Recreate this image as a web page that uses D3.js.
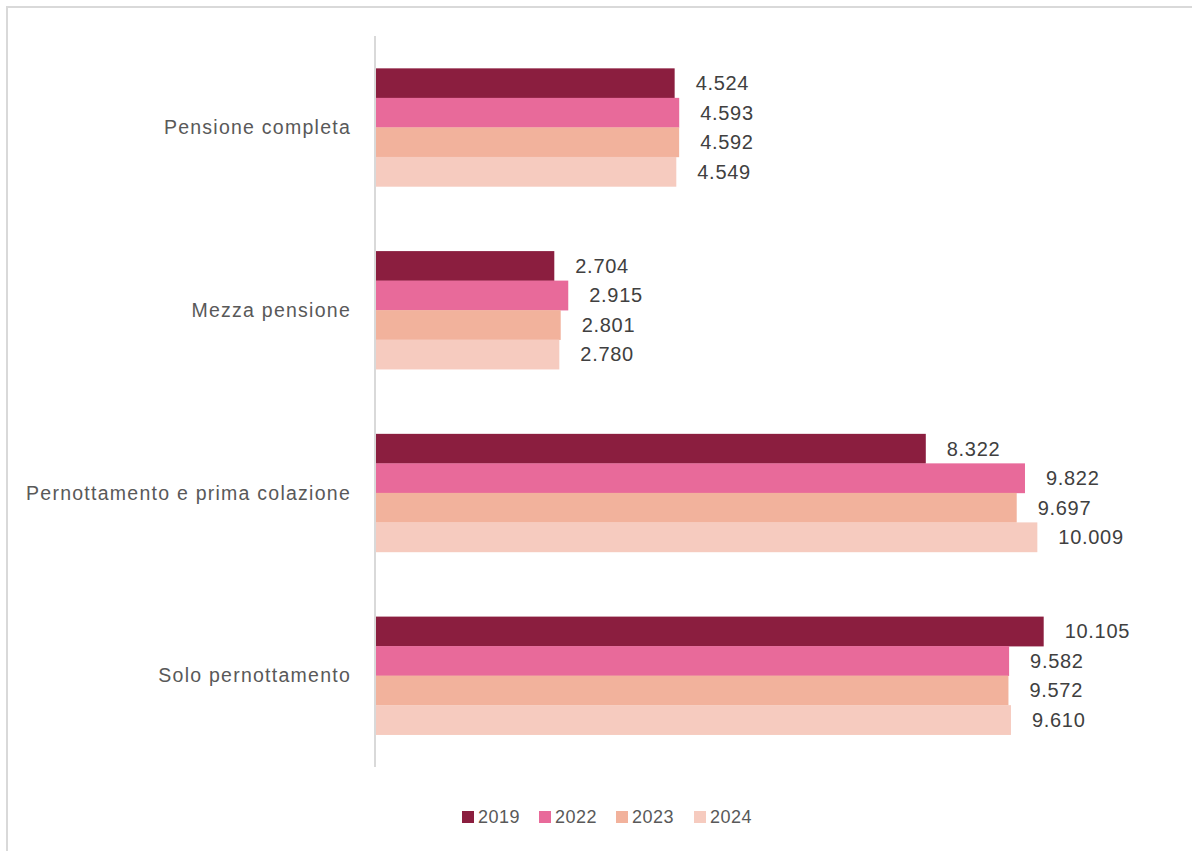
<!DOCTYPE html>
<html><head><meta charset="utf-8">
<script src="https://cdn.jsdelivr.net/npm/d3@7"></script>
<style>
html,body{margin:0;padding:0;background:#fff;}
svg{display:block;}
text{font-family:"Liberation Sans",Arial,sans-serif;}
</style></head>
<body>
<svg id="chart" width="1192" height="851"></svg>
<script>
const categories = ["Pensione completa","Mezza pensione","Pernottamento e prima colazione","Solo pernottamento"];
const years = ["2019","2022","2023","2024"];
const values2019 = [4524, 2704, 8322, 10105];
const values2022 = [4593, 2915, 9822, 9582];
const values2023 = [4592, 2801, 9697, 9572];
const values2024 = [4549, 2780, 10009, 9610];
const colors = ["#8B1E3F","#E86A9A","#F2B29C","#F6CBBF"];

const seriesValues = [values2019, values2022, values2023, values2024];

const svg = d3.select("#chart");

// outer border
svg.append("rect").attr("x",7).attr("y",7).attr("width",1200).attr("height",900)
  .attr("fill","#fff").attr("stroke","#d9d9d9").attr("stroke-width",2);

const x = d3.scaleLinear().domain([0,12000]).range([375.5,1169]);
const y = d3.scaleBand().domain(categories).range([36,767]).paddingInner(0.354).paddingOuter(0.177);
const ySub = d3.scaleBand().domain(years).range([0,y.bandwidth()]);

const it = d3.formatLocale({decimal:",", thousands:".", grouping:[3], currency:["€",""]});
const fmt = it.format(",d");

const groups = svg.append("g").selectAll("g").data(categories).join("g")
  .attr("transform", d => `translate(0,${y(d)})`);

groups.each(function(cat, ci){
  const g = d3.select(this);
  years.forEach((yr, si) => {
    const v = seriesValues[si][ci];
    g.append("rect")
      .attr("x", x(0))
      .attr("y", ySub(yr))
      .attr("width", x(v)-x(0))
      .attr("height", ySub.bandwidth()+0.3)
      .attr("fill", colors[si]);
    g.append("text")
      .attr("x", x(v)+21)
      .attr("y", ySub(yr)+ySub.bandwidth()/2)
      .attr("dominant-baseline","central")
      .attr("font-size","20px")
      .attr("letter-spacing","0.7px")
      .attr("fill","#404040")
      .text(fmt(v));
  });
});

// axis
const yAxis = d3.axisLeft(y).tickSize(0).tickPadding(24);
const ag = svg.append("g").attr("transform","translate(375,0)").call(yAxis);
ag.select(".domain").attr("stroke","#d9d9d9").attr("stroke-width",2).attr("d","M0,36V767");
ag.selectAll("text").attr("font-size","19.5px").attr("fill","#595959")
  .attr("letter-spacing","1.25px")
  .attr("font-family","'Liberation Sans',Arial,sans-serif").attr("dy","0.35em");

// legend
const legendX = [462, 539, 616, 694];
const lg = svg.append("g").selectAll("g").data(years).join("g")
  .attr("transform",(d,i)=>`translate(${legendX[i]},811)`);
lg.append("rect").attr("width",12).attr("height",12).attr("fill",(d,i)=>colors[i]);
lg.append("text").attr("x",16).attr("y",6).attr("dominant-baseline","central")
  .attr("font-size","18px").attr("letter-spacing","0.5px").attr("fill","#595959").text(d=>d);
</script>
</body></html>
